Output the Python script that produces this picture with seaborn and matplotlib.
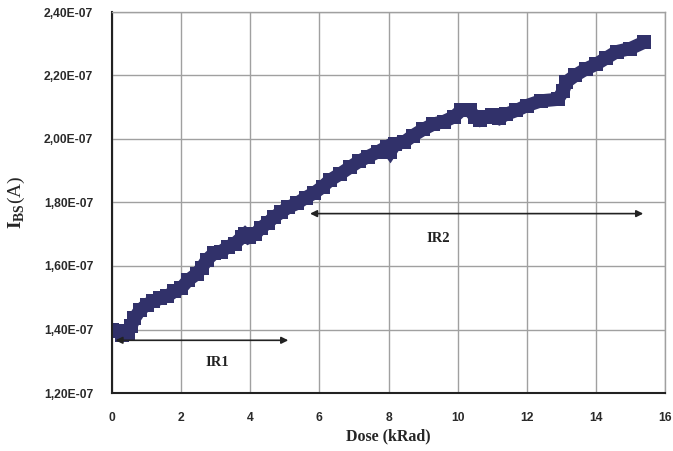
import matplotlib
matplotlib.use("Agg")
import matplotlib.pyplot as plt
import seaborn as sns
import pandas as pd
import numpy as np

dose = [0.0, 0.15, 0.3, 0.45, 0.55, 0.65, 0.8, 1.0, 1.2, 1.4, 1.6, 1.8, 2.0, 2.2,
        2.45, 2.6, 2.75, 2.95, 3.15, 3.35, 3.55, 3.75, 3.85, 3.95, 4.15, 4.3, 4.5,
        4.7, 4.9, 5.1, 5.35, 5.6, 5.85, 6.1, 6.3, 6.6, 6.9, 7.15, 7.4, 7.7, 7.95,
        8.05, 8.2, 8.45, 8.7, 9.0, 9.3, 9.6, 9.9, 10.1, 10.35, 10.5, 10.65, 10.85,
        11.0, 11.2, 11.4, 11.7, 12.0, 12.4, 12.9, 13.05, 13.15, 13.4, 13.7, 14.0,
        14.3, 14.6, 15.0, 15.4]
ibs_e7 = [1.40, 1.395, 1.382, 1.39, 1.41, 1.435, 1.46, 1.478, 1.49, 1.498, 1.505,
          1.52, 1.53, 1.555, 1.575, 1.595, 1.62, 1.64, 1.645, 1.66, 1.67, 1.69,
          1.70, 1.69, 1.70, 1.72, 1.735, 1.755, 1.77, 1.785, 1.797, 1.815, 1.83,
          1.85, 1.87, 1.89, 1.912, 1.93, 1.944, 1.96, 1.975, 1.96, 1.985, 1.99,
          2.01, 2.03, 2.047, 2.055, 2.07, 2.09, 2.09, 2.07, 2.06, 2.07, 2.075,
          2.065, 2.078, 2.09, 2.105, 2.12, 2.125, 2.15, 2.18, 2.20, 2.22, 2.235,
          2.255, 2.275, 2.285, 2.305]
xticks = [0, 2, 4, 6, 8, 10, 12, 14, 16]
yticks_e7 = [1.2, 1.4, 1.6, 1.8, 2.0, 2.2, 2.4]
ytick_labels = ["1,20E-07", "1,40E-07", "1,60E-07", "1,80E-07", "2,00E-07", "2,20E-07", "2,40E-07"]
ir1_range = [0.1, 5.1]
ir1_level = 1.366
ir2_range = [5.73, 15.37]
ir2_level = 1.765

df = pd.DataFrame({"dose": dose, "ibs": np.array(ibs_e7) * 1e-7})

sns.set_style("white")
plt.rcParams["font.family"] = ["Liberation Sans", "DejaVu Sans"]
plt.rcParams["mathtext.fontset"] = "custom"
plt.rcParams["mathtext.rm"] = "Liberation Serif"
plt.rcParams["mathtext.bf"] = "Liberation Serif:bold"

fig = plt.figure(figsize=(6.73, 4.51), dpi=100)
ax = fig.add_axes([112/673, 1 - 393/451, (665-112)/673, (393-12)/451])

navy = "#31316a"
sns.lineplot(data=df, x="dose", y="ibs", ax=ax, color=navy, linewidth=9.5,
             marker="s", markersize=9.5, markeredgewidth=0, sort=False)
ax.lines[0].set_solid_joinstyle("miter")
ax.lines[0].set_solid_capstyle("butt")

ax.set_xlim(0, 16)
ax.set_ylim(1.2e-7, 2.4e-7)
ax.set_xticks(xticks)
ax.set_xticklabels([str(t) for t in xticks])
ax.set_yticks([v * 1e-7 for v in yticks_e7])
ax.set_yticklabels(ytick_labels)
ax.grid(True, color="#a0a0a0", linewidth=1.0)
ax.set_axisbelow(True)

for s in ["top", "right"]:
    ax.spines[s].set_color("#a0a0a0")
    ax.spines[s].set_linewidth(1.0)
for s in ["left", "bottom"]:
    ax.spines[s].set_color("#222222")
    ax.spines[s].set_linewidth(1.5)

ax.tick_params(axis="both", direction="inout", length=7, width=1.0, color="#222222",
               labelsize=8.7, labelcolor="#2a2a2a", pad=10)
for lab in ax.get_xticklabels() + ax.get_yticklabels():
    lab.set_fontweight("bold")

ax.set_xlabel("Dose (kRad)", family="Liberation Serif", fontweight="bold",
              fontsize=11.5, labelpad=3)
ax.set_ylabel(r"$\mathbf{I}_{\mathbf{BS}}\mathrm{(A)}$", fontsize=14, labelpad=12)

arrow_kw = dict(arrowstyle="<|-|>", color="#222222", lw=1.2, mutation_scale=10,
                shrinkA=0, shrinkB=0)
ax.annotate("", xy=(ir1_range[0], ir1_level * 1e-7), xytext=(ir1_range[1], ir1_level * 1e-7),
            arrowprops=arrow_kw)
ax.annotate("", xy=(ir2_range[0], ir2_level * 1e-7), xytext=(ir2_range[1], ir2_level * 1e-7),
            arrowprops=arrow_kw)
ax.text(3.06, 1.295e-7, "IR1", family="Liberation Serif", fontweight="bold",
        fontsize=10.5, color="#222222", ha="center", va="center")
ax.text(9.43, 1.687e-7, "IR2", family="Liberation Serif", fontweight="bold",
        fontsize=10.5, color="#222222", ha="center", va="center",
        bbox=dict(facecolor="white", edgecolor="none", pad=4))

fig.savefig("out.png", dpi=100)
